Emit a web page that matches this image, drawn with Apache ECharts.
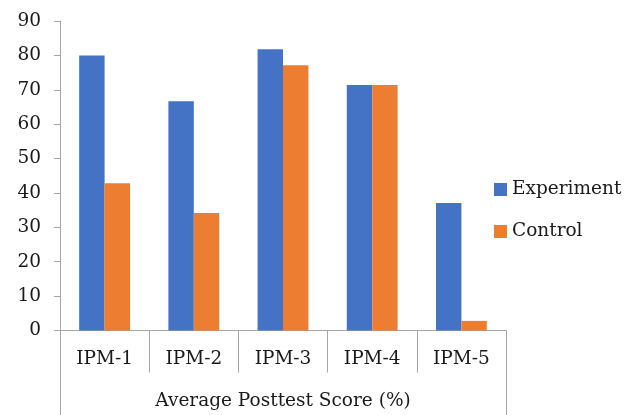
<!DOCTYPE html>
<html>
<head>
<meta charset="utf-8">
<script src="https://cdn.jsdelivr.net/npm/echarts@6/dist/echarts.min.js"></script>
<style>
html,body{margin:0;padding:0;background:#fff;}
#chart{width:633px;height:415px;}
</style>
</head>
<body>
<div id="chart"></div>
<script>
const categories = ['IPM-1', 'IPM-2', 'IPM-3', 'IPM-4', 'IPM-5'];
const groupLabel = ['Average Posttest Score (%)'];
const experiment = [80, 66.7, 81.8, 71.4, 37.1];
const control = [42.8, 34.2, 77.1, 71.4, 2.8];
const seriesNames = ['Experiment', 'Control'];

const FONT = 'DejaVu Serif';
const FS = 18.5;
const chart = echarts.init(document.getElementById('chart'), null, {renderer: 'canvas'});
chart.setOption({
  animation: false,
  backgroundColor: '#fff',
  textStyle: {fontFamily: FONT},
  grid: {left: 60, right: 127, top: 21, bottom: 84.5, containLabel: false},
  legend: {
    orient: 'vertical',
    left: 494,
    top: 180,
    padding: 0,
    itemWidth: 13,
    itemHeight: 13,
    itemGap: 23,
    icon: 'rect',
    textStyle: {fontFamily: FONT, fontSize: FS, color: '#1a1a1a'},
    data: seriesNames
  },
  xAxis: [
    {
      type: 'category',
      data: categories,
      position: 'bottom',
      axisLine: {show: true, lineStyle: {color: '#a6a6a6', width: 1}},
      axisTick: {show: true, length: 42, interval: 0, lineStyle: {color: '#a6a6a6'}},
      axisLabel: {fontFamily: FONT, fontSize: FS, color: '#1a1a1a', margin: 19.5, interval: 0}
    },
    {
      type: 'category',
      data: groupLabel,
      position: 'bottom',
      gridIndex: 0,
      axisLine: {show: false},
      axisTick: {show: true, length: 86, lineStyle: {color: '#a6a6a6'}},
      axisLabel: {fontFamily: FONT, fontSize: FS, color: '#1a1a1a', margin: 61.5}
    }
  ],
  yAxis: {
    type: 'value',
    min: 0,
    max: 90,
    interval: 10,
    axisLine: {show: true, lineStyle: {color: '#a6a6a6'}},
    axisTick: {show: true, length: 6, lineStyle: {color: '#a6a6a6'}},
    splitLine: {show: false},
    axisLabel: {fontFamily: FONT, fontSize: FS, color: '#1a1a1a', margin: 19}
  },
  series: [
    {name: seriesNames[0], type: 'bar', data: experiment, xAxisIndex: 0, itemStyle: {color: '#4472C4'}, barGap: '0%', barCategoryGap: '43%'},
    {name: seriesNames[1], type: 'bar', data: control, xAxisIndex: 0, itemStyle: {color: '#ED7D31'}, barGap: '0%', barCategoryGap: '43%'}
  ]
});
</script>
</body>
</html>
